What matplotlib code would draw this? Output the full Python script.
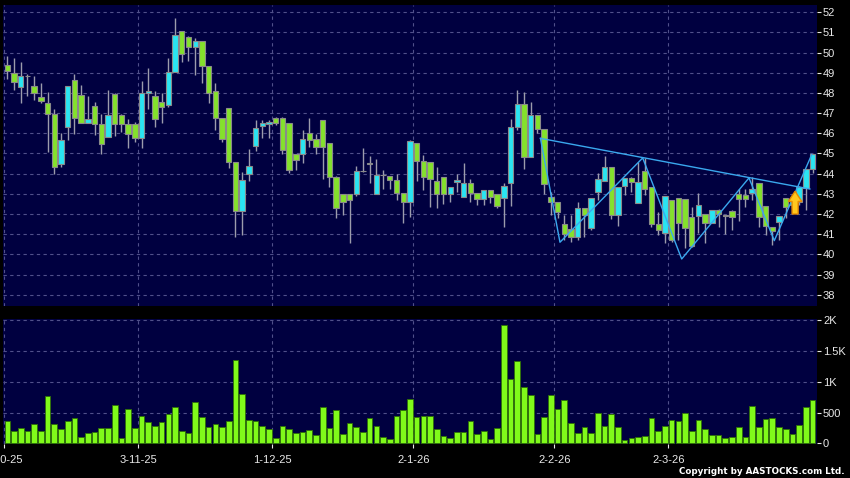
import matplotlib
matplotlib.use("Agg")
import matplotlib.pyplot as plt
import numpy as np
from matplotlib.patches import Polygon

# ---------------- data ----------------
opens = [49.41, 49.00, 48.30, 48.83, 48.35, 47.80, 47.50, 46.94, 44.47, 46.30,
         48.63, 47.90, 46.50, 47.34, 46.45, 45.82, 47.97, 46.91, 46.45, 46.46,
         45.77, 47.98, 47.83, 47.53, 47.39, 49.03, 51.06, 50.76, 50.26, 50.56,
         49.32, 48.08, 46.74, 47.24, 44.60, 42.13, 44.00, 45.36, 46.38, 46.46,
         46.78, 46.78, 46.50, 44.98, 44.98, 46.00, 45.70, 46.66, 45.52, 43.85,
         43.00, 43.00, 43.00, 44.12, 44.46, 43.00, 43.93, 43.88, 43.68, 43.02,
         42.58, 45.50, 44.64, 44.60, 43.62, 43.82, 43.00, 43.58, 42.83, 43.52,
         43.06, 42.76, 43.20, 43.00, 42.81, 43.52, 46.30, 47.44, 44.84, 46.90,
         46.20, 42.83, 42.58, 41.49, 41.24, 40.84, 42.31, 41.29, 43.11, 43.65,
         44.31, 41.97, 43.39, 43.80, 42.53, 44.15, 43.36, 41.49, 41.04, 42.71,
         42.81, 42.73, 41.87, 41.90, 41.98, 41.57, 42.20, 41.92, 42.17, 42.97,
         42.93, 43.02, 43.52, 42.41, 41.37, 41.59, 42.81, 42.45, 42.60, 43.27,
         44.25]
highs = [49.83, 49.73, 49.53, 48.95, 48.82, 48.50, 48.07, 47.21, 46.00, 48.35,
         48.94, 48.37, 47.87, 47.54, 46.96, 48.17, 48.00, 46.96, 46.73, 46.54,
         48.61, 49.22, 48.10, 48.02, 49.72, 51.70, 51.09, 50.80, 50.73, 50.60,
         49.32, 48.50, 46.74, 47.24, 44.60, 44.10, 45.21, 46.66, 46.66, 46.66,
         46.83, 46.83, 46.50, 44.98, 46.17, 46.76, 45.97, 46.66, 45.52, 43.90,
         43.00, 43.00, 44.40, 45.26, 44.90, 44.73, 44.18, 43.88, 43.98, 43.02,
         45.67, 45.50, 44.93, 44.60, 44.35, 43.82, 43.32, 43.98, 44.51, 43.72,
         43.06, 43.20, 43.20, 43.00, 43.55, 46.70, 48.15, 48.07, 47.56, 46.90,
         46.20, 43.07, 42.58, 41.95, 41.95, 42.61, 42.31, 42.78, 44.05, 44.88,
         44.31, 43.36, 43.77, 43.85, 44.60, 44.76, 43.36, 42.12, 42.88, 42.71,
         42.81, 42.73, 42.36, 43.06, 41.98, 42.20, 42.26, 41.92, 42.20, 43.26,
         43.22, 43.85, 43.52, 42.41, 41.37, 41.88, 42.81, 42.95, 43.40, 44.25,
         44.98]
lows = [48.70, 48.17, 47.52, 47.87, 47.67, 47.49, 45.06, 44.00, 44.32, 45.67,
        45.95, 46.50, 46.50, 45.92, 44.95, 45.82, 45.88, 46.05, 45.25, 45.58,
        45.25, 47.20, 46.30, 46.50, 47.29, 49.03, 49.52, 49.60, 48.91, 48.51,
        47.52, 46.18, 45.58, 44.30, 40.85, 40.97, 43.65, 45.10, 45.76, 45.76,
        46.41, 44.98, 44.02, 44.20, 44.55, 45.34, 44.98, 43.72, 43.36, 41.79,
        41.97, 40.55, 42.91, 44.07, 43.55, 43.00, 43.24, 43.24, 42.69, 41.57,
        41.83, 43.65, 43.19, 42.36, 42.30, 42.50, 42.60, 43.10, 42.83, 42.60,
        42.45, 42.45, 42.55, 42.30, 41.37, 42.40, 46.17, 44.25, 44.84, 46.00,
        43.00, 41.95, 41.79, 40.71, 40.60, 40.71, 40.84, 41.20, 42.69, 43.65,
        41.74, 41.40, 42.94, 43.10, 42.53, 42.94, 41.37, 40.96, 40.55, 40.63,
        40.71, 40.30, 40.38, 41.07, 40.58, 41.54, 41.37, 41.00, 41.20, 41.67,
        42.36, 42.69, 41.37, 40.96, 40.45, 40.71, 41.79, 42.30, 42.45, 42.20,
        44.02]
closes = [49.08, 48.54, 48.83, 48.83, 48.00, 47.60, 46.94, 44.33, 45.68, 48.33,
          46.76, 46.51, 46.73, 46.45, 45.45, 46.91, 46.46, 46.45, 45.97, 45.77,
          48.00, 48.10, 46.71, 47.32, 49.05, 50.86, 49.95, 50.26, 50.56, 49.32,
          47.98, 46.74, 45.70, 44.60, 42.13, 43.67, 44.36, 46.27, 46.50, 46.54,
          46.50, 45.17, 44.20, 44.69, 45.72, 45.67, 45.34, 45.34, 43.85, 42.30,
          42.60, 42.70, 44.12, 44.12, 44.55, 43.95, 43.93, 43.68, 43.02, 42.58,
          45.60, 44.64, 43.85, 43.75, 43.00, 43.00, 43.32, 43.67, 43.52, 43.06,
          42.74, 43.20, 42.83, 42.39, 43.37, 46.30, 47.44, 44.84, 46.90, 46.20,
          43.49, 42.58, 42.12, 40.99, 40.84, 42.31, 41.95, 42.78, 43.72, 44.31,
          41.97, 43.36, 43.77, 43.57, 43.60, 43.24, 41.49, 41.21, 42.88, 40.71,
          41.54, 41.29, 40.43, 42.43, 41.54, 42.20, 42.00, 41.92, 41.84, 42.76,
          42.74, 43.22, 41.87, 41.40, 41.17, 41.88, 42.36, 42.80, 43.32, 44.25,
          44.98]
volumes = [362, 200, 243, 200, 308, 200, 762, 313, 238, 362,
           405, 108, 173, 178, 249, 249, 616, 81, 551, 254,
           438, 346, 286, 346, 470, 584, 205, 162, 670, 427,
           265, 308, 259, 368, 1346, 800, 373, 362, 276, 227,
           92, 281, 238, 168, 184, 216, 135, 589, 249, 540,
           157, 324, 270, 178, 411, 276, 103, 76, 438, 546,
           719, 432, 438, 443, 232, 119, 86, 184, 178, 362,
           146, 205, 76, 243, 1913, 1043, 1335, 913, 789, 146,
           421, 778, 557, 703, 324, 173, 265, 162, 492, 281,
           476, 270, 54, 92, 103, 114, 411, 195, 276, 384,
           368, 492, 200, 378, 227, 135, 135, 81, 103, 259,
           103, 600, 270, 400, 411, 259, 232, 151, 292, 589,
           703]

date_labels = ["2-10-25", "3-11-25", "1-12-25", "2-1-26", "2-2-26", "2-3-26"]
date_index = [0, 20, 40, 61, 82, 99]        # first trading day of each month

price_ticks = list(range(38, 53))
vol_ticks = [0, 500, 1000, 1500, 2000]
vol_tick_labels = ["0", "500", "1K", "1.5K", "2K"]

# chart pattern drawn on the price panel (index, price)
pattern_x = [79.45, 82.36, 94.69, 100.5, 110.53, 114.3, 119.87]
pattern_y = [45.75, 40.60, 44.78, 39.77, 43.79, 40.68, 44.94]
neckline_x = [79.45, 119.6]
neckline_y = [45.75, 43.24]

signal_idx = 117.4
signal_low = 42.0
signal_high = 43.13

# ---------------- style ----------------
FIG_BG = "#000000"
PANEL_BG = "#000040"
GRID = "#50508a"
UP = "#2ae4f2"
DOWN = "#84e12c"
DOJI = "#9a9aa0"
EDGE = "#8a8a8a"
WICK = "#9c9cac"
VOL = "#80fa1a"
VOL_EDGE = "#2f6f08"
TXT = "#e8e8e8"
LINE = "#3aa8ee"

plt.rcParams['font.family'] = ['Liberation Sans', 'DejaVu Sans']

W, H = 850, 478
fig = plt.figure(figsize=(W / 100, H / 100), dpi=100, facecolor=FIG_BG)

left_px, right_px = 3.3, 816.7
ax1 = fig.add_axes([left_px / W, 1 - 306 / H, (right_px - left_px) / W, (306 - 5) / H])
ax2 = fig.add_axes([left_px / W, 1 - 444 / H, (right_px - left_px) / W, (444 - 319.3) / H])

n = len(opens)
x = np.arange(n)
o = np.array(opens); c = np.array(closes); h = np.array(highs); l = np.array(lows)
xlim = (-0.6, n - 1 + 0.62)

for ax in (ax1, ax2):
    ax.set_facecolor(PANEL_BG)
    for s in ax.spines.values():
        s.set_visible(False)
    ax.set_xlim(*xlim)
    ax.yaxis.tick_right()
    ax.tick_params(axis='y', colors=TXT, labelcolor=TXT, length=3, width=0.8,
                   pad=1.5, labelsize=8)
    for xi in date_index:
        ax.axvline(xi - 0.5, color=GRID, lw=0.8, ls=(0, (3, 3)), zorder=0)

# ---- price panel ----
ax1.set_ylim(37.44, 52.36)
ax1.set_yticks(price_ticks)
ax1.set_yticklabels([str(t) for t in price_ticks])
for t in price_ticks:
    ax1.axhline(t, color=GRID, lw=0.8, ls=(0, (3, 3)), zorder=0)
ax1.set_xticks([])

ax1.vlines(x, l, h, color=WICK, lw=1.0, zorder=2)
colors = [UP if cc > oo else (DOWN if cc < oo else DOJI) for oo, cc in zip(o, c)]
body_h = np.maximum(np.abs(c - o), 0.02)
ax1.bar(x, body_h, bottom=np.minimum(o, c), width=0.8, color=colors,
        edgecolor=EDGE, linewidth=0.8, zorder=3)

ax1.plot(neckline_x, neckline_y, color=LINE, lw=1.0, zorder=4)
ax1.plot(pattern_x, pattern_y, color=LINE, lw=1.0, zorder=4)

# signal arrow
head_base = signal_low + 0.55 * (signal_high - signal_low)
sw, hw = 0.45, 1.0
arrow = Polygon([(signal_idx - sw, signal_low), (signal_idx + sw, signal_low),
                 (signal_idx + sw, head_base), (signal_idx + hw, head_base),
                 (signal_idx, signal_high), (signal_idx - hw, head_base),
                 (signal_idx - sw, head_base)],
                closed=True, facecolor="#ffc81e", edgecolor="#e88a00", lw=1.0, zorder=6)
ax1.add_patch(arrow)

# ---- volume panel ----
ax2.set_ylim(-11, 2013)
ax2.set_yticks(vol_ticks)
ax2.set_yticklabels(vol_tick_labels)
for t in vol_ticks[1:]:
    ax2.axhline(t, color=GRID, lw=0.8, ls=(0, (3, 3)), zorder=0)
ax2.bar(x, volumes, width=0.84, color=VOL, edgecolor=VOL_EDGE, linewidth=0.6, zorder=3)
ax2.set_xticks([i - 0.5 for i in date_index])
ax2.set_xticklabels(date_labels)
ax2.tick_params(axis='x', colors=TXT, labelcolor=TXT, length=3, width=0.8,
                pad=5, labelsize=8)

fig.text(845 / W, 1 - 472 / H, "Copyright by AASTOCKS.com Ltd.", ha='right', va='center',
         color='white', fontsize=6.3, fontweight='bold', family='DejaVu Sans')

fig.savefig("out.png", dpi=100, facecolor=FIG_BG)
